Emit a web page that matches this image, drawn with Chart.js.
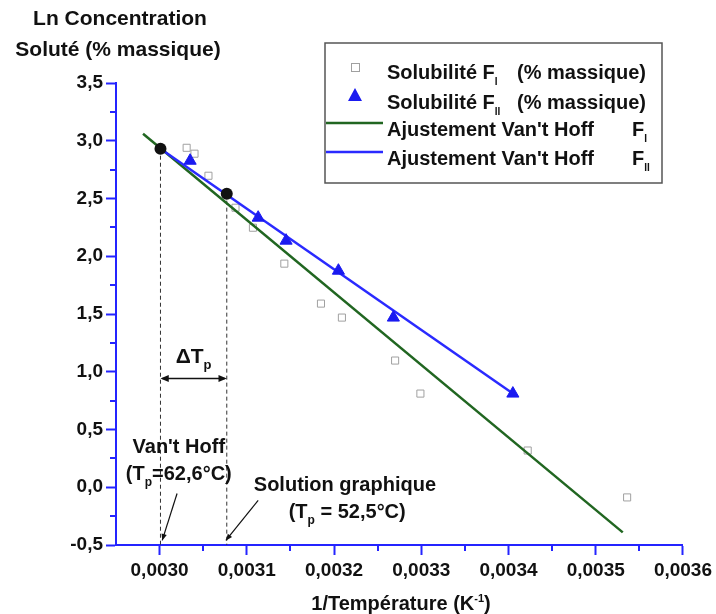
<!DOCTYPE html>
<html>
<head>
<meta charset="utf-8">
<script src="https://cdn.jsdelivr.net/npm/chart.js@4/dist/chart.umd.min.js"></script>
<style>
  html, body { margin: 0; padding: 0; background: #fff; }
  #c { display: block; }
</style>
</head>
<body>
<canvas id="c" width="716" height="614"></canvas>
<script>
// ---------- DATA ----------
const xTickValues = [0.0030, 0.0031, 0.0032, 0.0033, 0.0034, 0.0035, 0.0036];
const yTickValues = [-0.5, 0.0, 0.5, 1.0, 1.5, 2.0, 2.5, 3.0, 3.5];

// Solubilité F_I (open squares)
const fiX = [0.003031, 0.003040, 0.003056, 0.003087, 0.003107, 0.003143, 0.003185, 0.003209, 0.003270, 0.003299, 0.003422, 0.003536];
const fiY = [2.939, 2.888, 2.697, 2.420, 2.247, 1.936, 1.590, 1.469, 1.097, 0.811, 0.318, -0.088];

// Solubilité F_II (filled triangles)
const fiiX = [0.003035, 0.003113, 0.003145, 0.003205, 0.003268, 0.003405];
const fiiY = [2.827, 2.334, 2.135, 1.875, 1.469, 0.811];

// Van't Hoff fits (end points)
const fitIX = [0.002981, 0.003531];
const fitIY = [3.061, -0.391];
const fitIIX = [0.003001, 0.003405];
const fitIIY = [2.931, 0.811];

// Intersection points (Tp)
const tpX = [0.003001, 0.003077];
const tpY = [2.931, 2.542];
const yMin = -0.5, yMax = 3.5, xMin = 0.00295, xMax = 0.0036;

const pts = (xs, ys) => xs.map((x, i) => ({ x: x, y: ys[i] }));

const FONT = '"Liberation Sans", Arial, Helvetica, sans-serif';
const AXIS_BLUE = '#2424ff';
const GREEN = '#216621';
const BLUE = '#2a2aff';

// ---------- PLUGINS ----------
const minorTicks = {
  id: 'minorTicks',
  afterDraw(chart) {
    const ctx = chart.ctx, xs = chart.scales.x, ys = chart.scales.y;
    const a = chart.chartArea;
    ctx.save();
    ctx.strokeStyle = AXIS_BLUE;
    ctx.lineWidth = 2;
    for (let i = 0; i < xTickValues.length - 1; i++) {
      const v = (xTickValues[i] + xTickValues[i + 1]) / 2;
      const p = Math.round(xs.getPixelForValue(v));
      ctx.beginPath(); ctx.moveTo(p, a.bottom); ctx.lineTo(p, a.bottom + 6); ctx.stroke();
    }
    for (let i = 0; i < yTickValues.length - 1; i++) {
      const v = (yTickValues[i] + yTickValues[i + 1]) / 2;
      const p = Math.round(ys.getPixelForValue(v));
      ctx.beginPath(); ctx.moveTo(a.left, p); ctx.lineTo(a.left - 6, p); ctx.stroke();
    }
    ctx.restore();
  }
};

function arrowHead(ctx, x1, y1, x2, y2, size) {
  const ang = Math.atan2(y2 - y1, x2 - x1);
  ctx.beginPath();
  ctx.moveTo(x2, y2);
  ctx.lineTo(x2 - size * Math.cos(ang - 0.4), y2 - size * Math.sin(ang - 0.4));
  ctx.lineTo(x2 - size * Math.cos(ang + 0.4), y2 - size * Math.sin(ang + 0.4));
  ctx.closePath();
  ctx.fill();
}

function subText(ctx, parts, x, y, align) {
  let total = 0;
  parts.forEach(p => { ctx.font = 'bold ' + p.size + 'px ' + FONT; p.w = ctx.measureText(p.t).width; total += p.w + (p.gap || 0); });
  let cx = align === 'center' ? x - total / 2 : x;
  ctx.textAlign = 'left';
  parts.forEach(p => {
    if (p.at !== undefined) cx = p.at;
    ctx.font = 'bold ' + p.size + 'px ' + FONT;
    ctx.fillText(p.t, cx, y + (p.dy || 0));
    cx += p.w + (p.gap || 0);
  });
}

const annotations = {
  id: 'annotations',
  afterDraw(chart) {
    const ctx = chart.ctx, xs = chart.scales.x, ys = chart.scales.y;
    const X = v => xs.getPixelForValue(v), Y = v => ys.getPixelForValue(v);
    ctx.save();
    ctx.fillStyle = '#111';
    ctx.strokeStyle = '#111';
    ctx.textBaseline = 'alphabetic';

    // Y axis title (two lines)
    ctx.textAlign = 'center';
    ctx.font = 'bold 21px ' + FONT;
    ctx.fillText('Ln Concentration', 120, 25);
    ctx.fillText('Soluté (% massique)', 118, 56);

    // X axis title with superscript
    subText(ctx, [
      { t: '1/Température (K', size: 20 },
      { t: '-1', size: 11, dy: -8 },
      { t: ')', size: 20 }
    ], 401, 610, 'center');

    // ΔTp double arrow
    const ay = Y(0.941);
    const ax1 = X(tpX[0]), ax2 = X(tpX[1]);
    ctx.lineWidth = 1.5;
    ctx.beginPath(); ctx.moveTo(ax1 + 2, ay); ctx.lineTo(ax2 - 2, ay); ctx.stroke();
    arrowHead(ctx, ax2, ay, ax1, ay, 9);
    arrowHead(ctx, ax1, ay, ax2, ay, 9);
    subText(ctx, [
      { t: 'ΔT', size: 21 },
      { t: 'p', size: 13, dy: 6 }
    ], X(0.003039), Y(1.08), 'center');

    // Van't Hoff label
    ctx.textAlign = 'center';
    ctx.font = 'bold 20px ' + FONT;
    ctx.fillText("Van't Hoff", X(0.003022), Y(0.30));
    subText(ctx, [
      { t: '(T', size: 20 },
      { t: 'p', size: 12, dy: 6 },
      { t: '=62,6°C)', size: 20 }
    ], X(0.003022), Y(0.065), 'center');

    // Solution graphique label
    ctx.textAlign = 'left';
    ctx.font = 'bold 20px ' + FONT;
    ctx.fillText('Solution graphique', X(0.003108), Y(-0.03));
    subText(ctx, [
      { t: '(T', size: 20 },
      { t: 'p', size: 12, dy: 6 },
      { t: ' = 52,5°C)', size: 20 }
    ], X(0.003148), Y(-0.265), 'left');

    // Pointer arrows
    ctx.lineWidth = 1.2;
    const arrows = [
      [0.003020, -0.054, 0.003003, -0.46],
      [0.003113, -0.114, 0.003076, -0.46]
    ];
    arrows.forEach(a => {
      const x1 = X(a[0]), y1 = Y(a[1]), x2 = X(a[2]), y2 = Y(a[3]);
      ctx.beginPath(); ctx.moveTo(x1, y1); ctx.lineTo(x2, y2); ctx.stroke();
      arrowHead(ctx, x1, y1, x2, y2, 7);
    });

    // Legend box
    const lx = 325, ly = 43, lw = 337, lh = 140;
    ctx.lineWidth = 1.5;
    ctx.strokeStyle = '#555';
    ctx.strokeRect(lx, ly, lw, lh);
    const rows = [72, 102, 129, 158];
    const tx = 387;
    const ds = chart.data.datasets;
    ctx.strokeStyle = ds[0].borderColor; ctx.lineWidth = 1;
    ctx.fillStyle = '#fff';
    ctx.fillRect(351, rows[0] - 9, 8, 8); ctx.strokeRect(351.5, rows[0] - 8.5, 8, 8);
    ctx.fillStyle = ds[1].backgroundColor;
    ctx.beginPath(); ctx.moveTo(355, rows[1] - 14); ctx.lineTo(362, rows[1] - 1); ctx.lineTo(348, rows[1] - 1); ctx.closePath(); ctx.fill();
    ctx.lineWidth = ds[2].borderWidth; ctx.strokeStyle = ds[2].borderColor;
    ctx.beginPath(); ctx.moveTo(326, rows[2] - 6); ctx.lineTo(383, rows[2] - 6); ctx.stroke();
    ctx.lineWidth = ds[3].borderWidth; ctx.strokeStyle = ds[3].borderColor;
    ctx.beginPath(); ctx.moveTo(326, rows[3] - 6); ctx.lineTo(383, rows[3] - 6); ctx.stroke();

    ctx.fillStyle = '#111';
    subText(ctx, [
      { t: 'Solubilité F', size: 20 },
      { t: 'I', size: 10, dy: 6 },
      { t: '(% massique)', size: 20, at: 517 }
    ], tx, rows[0] + 7, 'left');
    subText(ctx, [
      { t: 'Solubilité F', size: 20 },
      { t: 'II', size: 10, dy: 6 },
      { t: '(% massique)', size: 20, at: 517 }
    ], tx, rows[1] + 7, 'left');
    subText(ctx, [
      { t: "Ajustement Van't Hoff", size: 20 },
      { t: 'F', size: 20, at: 632 },
      { t: 'I', size: 10, dy: 6 }
    ], tx, rows[2] + 7, 'left');
    subText(ctx, [
      { t: "Ajustement Van't Hoff", size: 20 },
      { t: 'F', size: 20, at: 632 },
      { t: 'II', size: 10, dy: 6 }
    ], tx, rows[3] + 7, 'left');

    ctx.restore();
  }
};

// ---------- CHART ----------
new Chart(document.getElementById('c'), {
  type: 'scatter',
  data: {
    datasets: [
      {
        label: 'Solubilité FI (% massique)',
        data: pts(fiX, fiY),
        pointStyle: 'rect', pointRadius: 5, borderWidth: 1,
        borderColor: '#a0a0a0', backgroundColor: 'rgba(255,255,255,0)',
        showLine: false, order: 3
      },
      {
        label: 'Solubilité FII (% massique)',
        data: pts(fiiX, fiiY),
        pointStyle: 'triangle', pointRadius: 7, borderWidth: 1,
        borderColor: '#1a1af0', backgroundColor: '#1a1af0',
        showLine: false, order: 0
      },
      {
        label: "Ajustement Van't Hoff FI",
        data: pts(fitIX, fitIY),
        showLine: true, borderColor: GREEN, borderWidth: 2.5,
        pointRadius: 0, fill: false, order: 2
      },
      {
        label: "Ajustement Van't Hoff FII",
        data: pts(fitIIX, fitIIY),
        showLine: true, borderColor: BLUE, borderWidth: 2.5,
        pointRadius: 0, fill: false, order: 1
      },
      {
        label: 'Tp',
        data: pts(tpX, tpY),
        pointStyle: 'circle', pointRadius: 6, borderWidth: 0,
        backgroundColor: '#111', borderColor: '#111',
        showLine: false, order: -1
      },
      {
        label: 'drop1',
        data: [{ x: tpX[0], y: tpY[0] }, { x: tpX[0], y: yMin }],
        showLine: true, borderColor: '#333', borderWidth: 1, borderDash: [4, 3],
        pointRadius: 0, order: 4
      },
      {
        label: 'drop2',
        data: [{ x: tpX[1], y: tpY[1] }, { x: tpX[1], y: yMin }],
        showLine: true, borderColor: '#333', borderWidth: 1, borderDash: [4, 3],
        pointRadius: 0, order: 4
      }
    ]
  },
  options: {
    responsive: false,
    animation: false,
    layout: { padding: { top: 83, right: 33, left: 0, bottom: 0 } },
    plugins: { legend: { display: false }, tooltip: { enabled: false }, title: { display: false } },
    scales: {
      x: {
        type: 'linear', min: xMin, max: xMax,
        afterBuildTicks: s => { s.ticks = xTickValues.map(v => ({ value: v })); },
        afterFit: s => { s.height = 69; },
        border: { color: AXIS_BLUE, width: 2 },
        grid: { drawOnChartArea: false, drawTicks: true, tickLength: 10, tickColor: AXIS_BLUE, tickWidth: 2, color: AXIS_BLUE },
        ticks: {
          color: '#111', padding: 4, maxRotation: 0, autoSkip: false,
          font: { family: FONT, size: 19, weight: 'bold' },
          callback: v => v.toFixed(4).replace('.', ',')
        }
      },
      y: {
        type: 'linear', min: yMin, max: yMax,
        afterBuildTicks: s => { s.ticks = yTickValues.map(v => ({ value: v })); },
        afterFit: s => { s.width = 116; },
        border: { color: AXIS_BLUE, width: 2 },
        grid: { drawOnChartArea: false, drawTicks: true, tickLength: 10, tickColor: AXIS_BLUE, tickWidth: 2, color: AXIS_BLUE },
        ticks: {
          color: '#111', padding: 3,
          font: { family: FONT, size: 19, weight: 'bold' },
          callback: v => v.toFixed(1).replace('.', ',')
        }
      }
    }
  },
  plugins: [minorTicks, annotations]
});
</script>
</body>
</html>
